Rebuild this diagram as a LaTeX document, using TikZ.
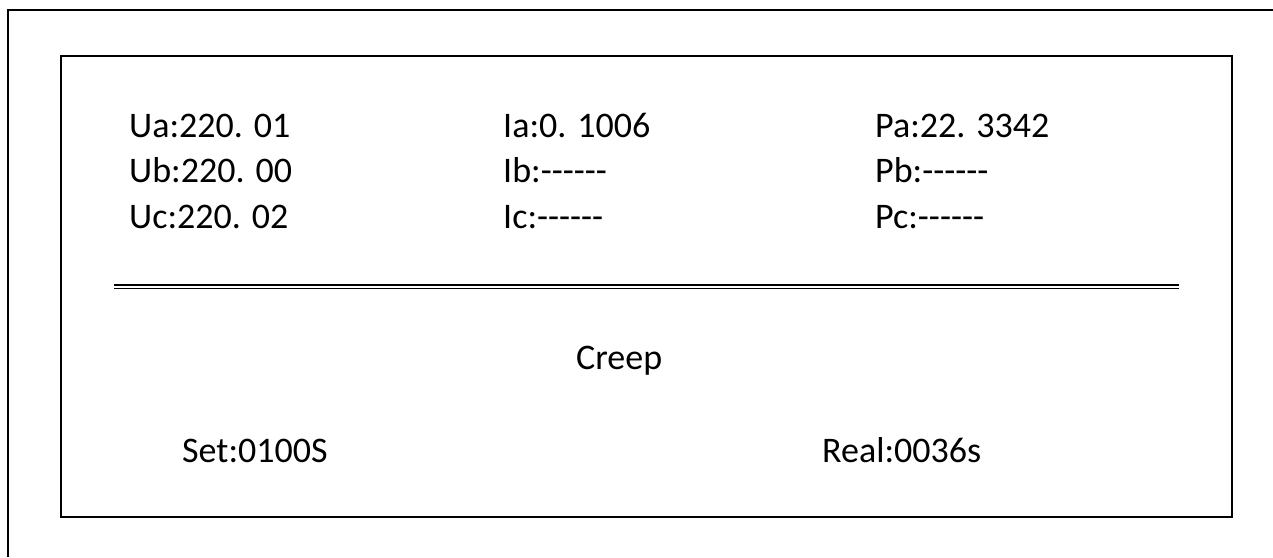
\documentclass[tikz,border=0pt]{standalone}
\usepackage{fontspec}
\setmainfont{Carlito}
\newcommand{\sixdash}{-\kern0pt-\kern0pt-\kern0pt-\kern0pt-\kern0pt-}
\begin{document}
\begin{tikzpicture}[x=1pt,y=-1pt,
  frame/.style={draw=black,line width=2pt},
  rule/.style={draw=black,line width=1.8pt},
  lbl/.style={anchor=base west,inner sep=0pt,font=\fontsize{36}{40}\selectfont}]
\useasboundingbox (0,0) rectangle (1273,557);
\fill[white] (0,0) rectangle (1273,557);
% outer frame (only left and top visible)
\coordinate (obl) at (8,557);
\coordinate (otl) at (8,9.5);
\coordinate (otr) at (1273,9.5);
\draw[frame] (obl) -- (otl) -- (otr);
% inner frame
\coordinate (itl) at (61,56);
\coordinate (ibr) at (1232,516.5);
\draw[frame] (itl) rectangle (ibr);
% double rule
\coordinate (r1l) at (114,284.8); \coordinate (r1r) at (1179,284.8);
\coordinate (r2l) at (114,288.4); \coordinate (r2r) at (1179,288.4);
\draw[rule] (r1l) -- (r1r);
\draw[rule] (r2l) -- (r2r);
% readings
\node[lbl] (ua) at (129,137) {Ua:220. 01};
\node[lbl] (ub) at (129,182.5) {Ub:220. 00};
\node[lbl] (uc) at (129,228) {Uc:220. 02};
\node[lbl] (ia) at (503,137) {Ia:0. 1006};
\node[lbl] (ib) at (503,182.5) {Ib:\sixdash};
\node[lbl] (ic) at (503,228) {Ic:\sixdash};
\node[lbl] (pa) at (875,137) {Pa:22. 3342};
\node[lbl] (pb) at (875,182.5) {Pb:\sixdash};
\node[lbl] (pc) at (875,228) {Pc:\sixdash};
\node[lbl] (creep) at (576,369) {Creep};
\node[lbl] (set) at (182,462) {Set:0100S};
\node[lbl] (real) at (822,462) {Real:0036s};
\end{tikzpicture}
\end{document}
